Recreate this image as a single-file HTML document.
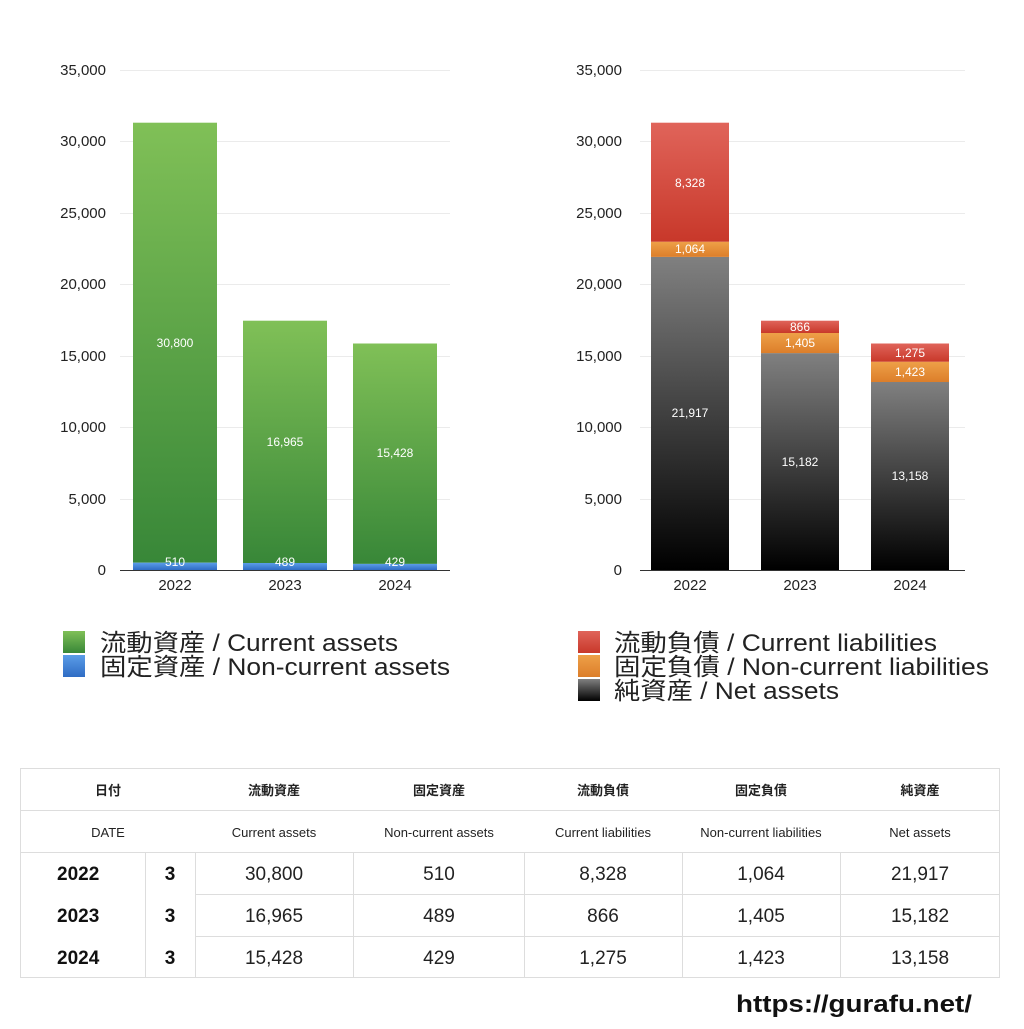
<!DOCTYPE html>
<html><head><meta charset="utf-8"><style>
body{margin:0;background:#fff}
text{font-family:"Liberation Sans","Noto Sans CJK JP",sans-serif}
</style></head><body>
<svg width="1024" height="1024" viewBox="0 0 1024 1024" xmlns="http://www.w3.org/2000/svg">
<defs>
<linearGradient id="g" x1="0" y1="0" x2="0" y2="1"><stop offset="0" stop-color="#80c057"/><stop offset="1" stop-color="#388738"/></linearGradient>
<linearGradient id="b" x1="0" y1="0" x2="0" y2="1"><stop offset="0" stop-color="#5b9de8"/><stop offset="1" stop-color="#2f6cc4"/></linearGradient>
<linearGradient id="k" x1="0" y1="0" x2="0" y2="1"><stop offset="0" stop-color="#808080"/><stop offset="1" stop-color="#000"/></linearGradient>
<linearGradient id="r" x1="0" y1="0" x2="0" y2="1"><stop offset="0" stop-color="#e0645a"/><stop offset="1" stop-color="#c8382a"/></linearGradient>
<linearGradient id="o" x1="0" y1="0" x2="0" y2="1"><stop offset="0" stop-color="#eea048"/><stop offset="1" stop-color="#dc7e2a"/></linearGradient>
</defs>
<g stroke="#ebebeb" stroke-width="1">
<line x1="120" x2="450" y1="70.5" y2="70.5"/><line x1="120" x2="450" y1="141.5" y2="141.5"/><line x1="120" x2="450" y1="213.5" y2="213.5"/><line x1="120" x2="450" y1="284.5" y2="284.5"/><line x1="120" x2="450" y1="356.5" y2="356.5"/><line x1="120" x2="450" y1="427.5" y2="427.5"/><line x1="120" x2="450" y1="499.5" y2="499.5"/>
<line x1="640" x2="965" y1="70.5" y2="70.5"/><line x1="640" x2="965" y1="141.5" y2="141.5"/><line x1="640" x2="965" y1="213.5" y2="213.5"/><line x1="640" x2="965" y1="284.5" y2="284.5"/><line x1="640" x2="965" y1="356.5" y2="356.5"/><line x1="640" x2="965" y1="427.5" y2="427.5"/><line x1="640" x2="965" y1="499.5" y2="499.5"/>
</g>
<g font-size="15" fill="#222" text-anchor="end">
<text x="106" y="75">35,000</text><text x="106" y="146">30,000</text><text x="106" y="218">25,000</text><text x="106" y="289">20,000</text><text x="106" y="361">15,000</text><text x="106" y="432">10,000</text><text x="106" y="504">5,000</text><text x="106" y="575">0</text>
<text x="622" y="75">35,000</text><text x="622" y="146">30,000</text><text x="622" y="218">25,000</text><text x="622" y="289">20,000</text><text x="622" y="361">15,000</text><text x="622" y="432">10,000</text><text x="622" y="504">5,000</text><text x="622" y="575">0</text>
</g>
<rect x="133" y="122.7" width="84" height="440" fill="url(#g)"/><rect x="133" y="562.7" width="84" height="7.3" fill="url(#b)"/>
<rect x="243" y="320.7" width="84" height="242.3" fill="url(#g)"/><rect x="243" y="563" width="84" height="7" fill="url(#b)"/>
<rect x="353" y="343.5" width="84" height="220.4" fill="url(#g)"/><rect x="353" y="563.9" width="84" height="6.1" fill="url(#b)"/>
<rect x="651" y="256.9" width="78" height="313.1" fill="url(#k)"/><rect x="651" y="241.7" width="78" height="15.2" fill="url(#o)"/><rect x="651" y="122.7" width="78" height="119" fill="url(#r)"/>
<rect x="761" y="353.1" width="78" height="216.9" fill="url(#k)"/><rect x="761" y="333" width="78" height="20.1" fill="url(#o)"/><rect x="761" y="320.7" width="78" height="12.3" fill="url(#r)"/>
<rect x="871" y="382" width="78" height="188" fill="url(#k)"/><rect x="871" y="361.7" width="78" height="20.3" fill="url(#o)"/><rect x="871" y="343.5" width="78" height="18.2" fill="url(#r)"/>
<line x1="120" x2="450" y1="570.5" y2="570.5" stroke="#333"/><line x1="640" x2="965" y1="570.5" y2="570.5" stroke="#333"/>
<g font-size="12" fill="#fff" text-anchor="middle">
<text x="175" y="347">30,800</text><text x="175" y="566">510</text>
<text x="285" y="446">16,965</text><text x="285" y="566">489</text>
<text x="395" y="457">15,428</text><text x="395" y="566">429</text>
<text x="690" y="187">8,328</text><text x="690" y="253">1,064</text><text x="690" y="417">21,917</text>
<text x="800" y="331">866</text><text x="800" y="347">1,405</text><text x="800" y="466">15,182</text>
<text x="910" y="357">1,275</text><text x="910" y="376">1,423</text><text x="910" y="480">13,158</text>
</g>
<g font-size="15" fill="#222" text-anchor="middle">
<text x="175" y="590">2022</text><text x="285" y="590">2023</text><text x="395" y="590">2024</text>
<text x="690" y="590">2022</text><text x="800" y="590">2023</text><text x="910" y="590">2024</text>
</g>
<rect x="63" y="631" width="22" height="22" fill="url(#g)"/><rect x="63" y="655" width="22" height="22" fill="url(#b)"/>
<rect x="578" y="631" width="22" height="22" fill="url(#r)"/><rect x="578" y="655" width="22" height="22" fill="url(#o)"/><rect x="578" y="679" width="22" height="22" fill="url(#k)"/>
<g font-size="24" fill="#222" lengthAdjust="spacingAndGlyphs">
<text x="100" y="651" textLength="298" lengthAdjust="spacingAndGlyphs">流動資産 / Current assets</text><text x="100" y="675" textLength="350" lengthAdjust="spacingAndGlyphs">固定資産 / Non-current assets</text>
<text x="614" y="651" textLength="323" lengthAdjust="spacingAndGlyphs">流動負債 / Current liabilities</text><text x="614" y="675" textLength="375" lengthAdjust="spacingAndGlyphs">固定負債 / Non-current liabilities</text><text x="614" y="699" textLength="225" lengthAdjust="spacingAndGlyphs">純資産 / Net assets</text>
</g>
<g stroke="#ddd" stroke-width="1" fill="none">
<rect x="20.5" y="768.5" width="979" height="209"/>
<line x1="20" x2="1000" y1="810.5" y2="810.5"/><line x1="20" x2="1000" y1="852.5" y2="852.5"/>
<line x1="195" x2="1000" y1="894.5" y2="894.5"/><line x1="195" x2="1000" y1="936.5" y2="936.5"/>
<line x1="145.5" x2="145.5" y1="852" y2="978"/><line x1="195.5" x2="195.5" y1="852" y2="978"/><line x1="353.5" x2="353.5" y1="852" y2="978"/><line x1="524.5" x2="524.5" y1="852" y2="978"/><line x1="682.5" x2="682.5" y1="852" y2="978"/><line x1="840.5" x2="840.5" y1="852" y2="978"/>
</g>
<g font-size="13" font-weight="bold" fill="#222" text-anchor="middle">
<text x="108" y="795">日付</text><text x="274" y="795">流動資産</text><text x="439" y="795">固定資産</text><text x="603" y="795">流動負債</text><text x="761" y="795">固定負債</text><text x="920" y="795">純資産</text>
</g>
<g font-size="13" fill="#222" text-anchor="middle">
<text x="108" y="837">DATE</text><text x="274" y="837">Current assets</text><text x="439" y="837">Non-current assets</text><text x="603" y="837">Current liabilities</text><text x="761" y="837">Non-current liabilities</text><text x="920" y="837">Net assets</text>
</g>
<g font-size="19" font-weight="bold" fill="#111">
<text x="57" y="880">2022</text><text x="57" y="922">2023</text><text x="57" y="964">2024</text>
<text x="170" y="880" text-anchor="middle">3</text><text x="170" y="922" text-anchor="middle">3</text><text x="170" y="964" text-anchor="middle">3</text>
</g>
<g font-size="19" fill="#222" text-anchor="middle">
<text x="274" y="880">30,800</text><text x="439" y="880">510</text><text x="603" y="880">8,328</text><text x="761" y="880">1,064</text><text x="920" y="880">21,917</text>
<text x="274" y="922">16,965</text><text x="439" y="922">489</text><text x="603" y="922">866</text><text x="761" y="922">1,405</text><text x="920" y="922">15,182</text>
<text x="274" y="964">15,428</text><text x="439" y="964">429</text><text x="603" y="964">1,275</text><text x="761" y="964">1,423</text><text x="920" y="964">13,158</text>
</g>
<text x="736" y="1012" font-size="24" font-weight="bold" fill="#111" textLength="236" lengthAdjust="spacingAndGlyphs">https://gurafu.net/</text>
</svg>
</body></html>
